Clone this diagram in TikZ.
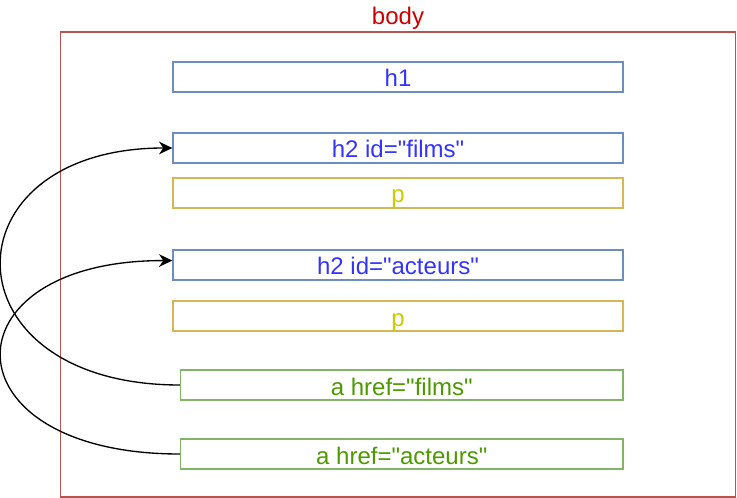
\documentclass[tikz,border=0pt]{standalone}
\usepackage{fontspec}
\setmainfont{Liberation Sans}[Ligatures=TeXOff]
\usetikzlibrary{arrows.meta}
\definecolor{bodyline}{HTML}{B85450}
\definecolor{bodytext}{HTML}{CC0000}
\definecolor{blueline}{HTML}{6C8EBF}
\definecolor{bluetext}{HTML}{3333FF}
\definecolor{yelline}{HTML}{D6B656}
\definecolor{yeltext}{HTML}{CCCC00}
\definecolor{greenline}{HTML}{82B366}
\definecolor{greentext}{HTML}{4D9900}
\tikzset{
  lbl/.style={font=\fontsize{18}{20}\selectfont, text height=15.5pt, text depth=0.5pt},
  box/.style={lbl, draw, line width=1pt, minimum height=22.5pt, inner sep=0pt},
  bluebox/.style={box, draw=blueline, text=bluetext, minimum width=337.5pt},
  yelbox/.style={box, draw=yelline, text=yeltext, minimum width=337.5pt},
  greenbox/.style={box, draw=greenline, text=greentext, minimum width=331.9pt},
  link/.style={line width=1pt, -{Stealth[length=10pt,width=9.5pt,inset=3.2pt]}}
}
\begin{document}
\begin{tikzpicture}[x=0.75pt,y=-0.75pt]
\useasboundingbox (0,0) rectangle (737,498);
\node[draw=bodyline, line width=1pt, minimum width=506.25pt, minimum height=348.75pt, inner sep=0pt] (body) at (398,264.5) {};
\node[lbl, text=bodytext, inner sep=0pt] (bodylabel) at (398,15) {body};
\node[bluebox] (h2f) at (398,148) {h2 id="films"};
\node[bluebox] (h1) at (398,77) {h1};
\node[yelbox] (p1) at (398,193) {p};
\node[bluebox] (h2a) at (398,265) {h2 id="acteurs"};
\node[yelbox] (p2) at (398,316) {p};
\node[greenbox] (af) at (401.75,385) {a href="films"};
\node[greenbox] (aa) at (401.75,454) {a href="acteurs"};
\draw[link] (af.west) .. controls (-57,385) and (-57,148) .. (h2f.west);
\draw[link] (aa.west) .. controls (-57,454) and (-57,260) .. ([yshift=3.3pt]h2a.west);
\end{tikzpicture}
\end{document}
